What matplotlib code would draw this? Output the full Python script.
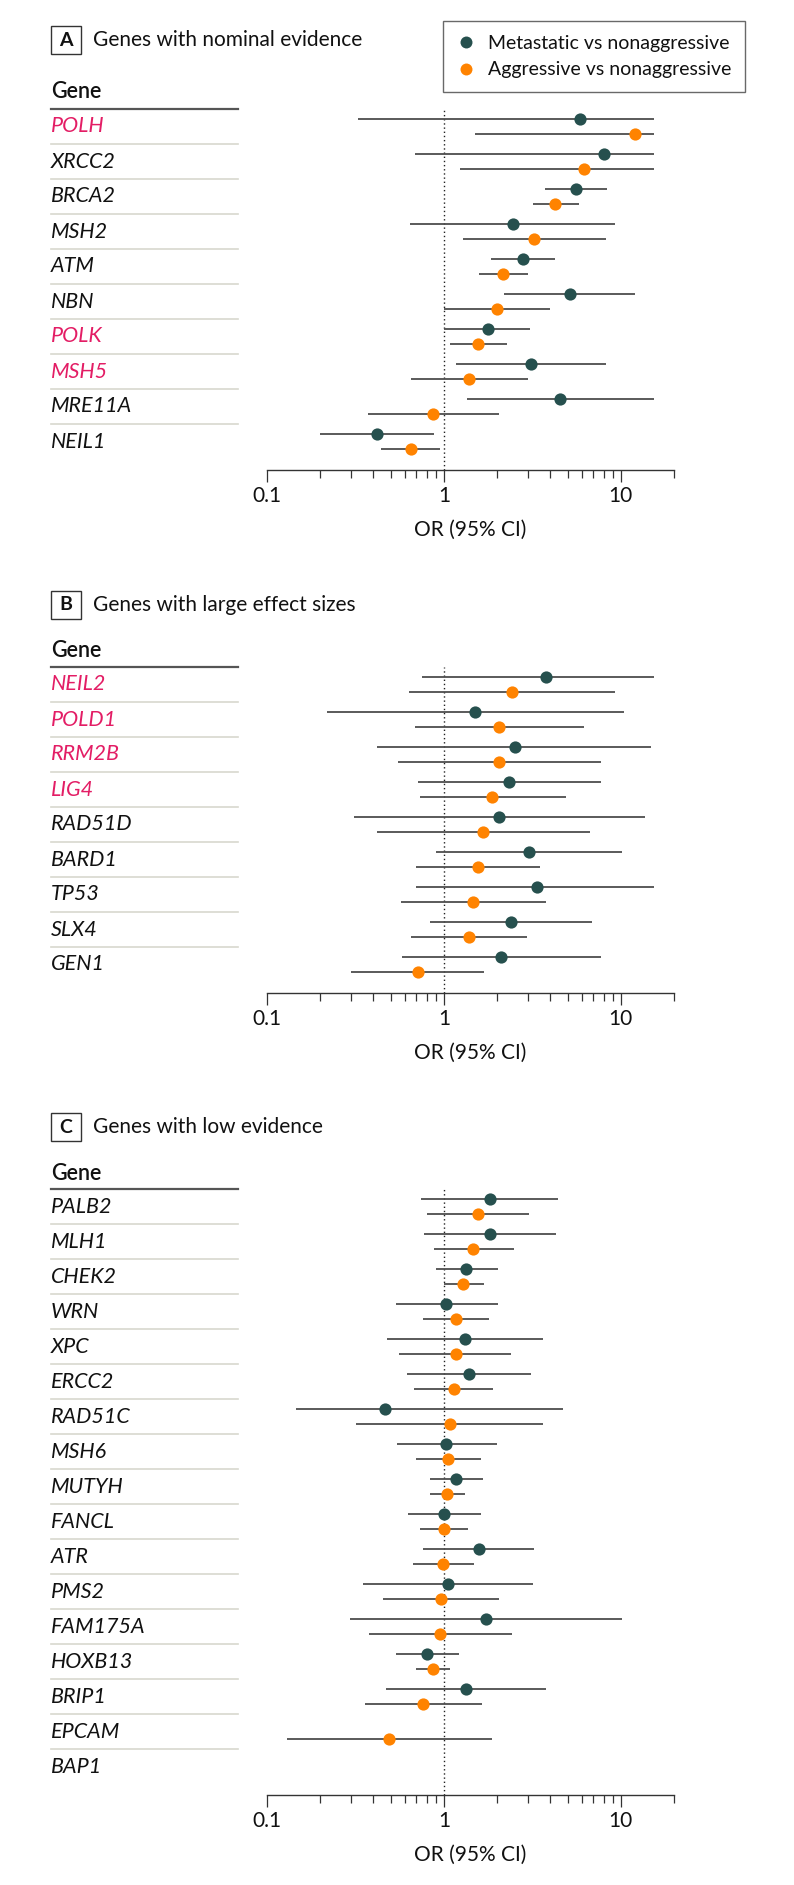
import matplotlib
matplotlib.use('Agg')
import matplotlib.pyplot as plt
import numpy as np
from matplotlib.lines import Line2D
from matplotlib.patches import Rectangle
from matplotlib.transforms import blended_transform_factory

plt.rcParams['font.family'] = ['Lato', 'DejaVu Sans']

# Panel A: genes with nominal evidence
genes_a = ['POLH', 'XRCC2', 'BRCA2', 'MSH2', 'ATM', 'NBN', 'POLK', 'MSH5', 'MRE11A', 'NEIL1']
pink_a = ['POLH', 'POLK', 'MSH5']
met_or_a = [5.87, 8.0, 5.57, 2.45, 2.81, 5.15, 1.77, 3.10, 4.54, 0.42]
met_lo_a = [0.325, 0.69, 3.73, 0.64, 1.84, 2.20, 1.00, 1.17, 1.36, 0.20]
met_hi_a = [15.4, 15.4, 8.37, 9.3, 4.25, 12.0, 3.08, 8.26, 15.4, 0.88]
agg_or_a = [12.0, 6.19, 4.25, 3.25, 2.16, 2.00, 1.56, 1.38, 0.865, 0.65]
agg_lo_a = [1.49, 1.23, 3.18, 1.28, 1.58, 1.00, 1.09, 0.65, 0.37, 0.44]
agg_hi_a = [15.4, 15.4, 5.79, 8.26, 2.98, 4.00, 2.27, 2.98, 2.05, 0.95]

# Panel B: genes with large effect sizes
genes_b = ['NEIL2', 'POLD1', 'RRM2B', 'LIG4', 'RAD51D', 'BARD1', 'TP53', 'SLX4', 'GEN1']
pink_b = ['NEIL2', 'POLD1', 'RRM2B', 'LIG4']
met_or_b = [3.78, 1.49, 2.51, 2.34, 2.05, 3.02, 3.35, 2.40, 2.09]
met_lo_b = [0.75, 0.217, 0.42, 0.715, 0.31, 0.906, 0.70, 0.83, 0.58]
met_hi_b = [15.4, 10.4, 14.9, 7.75, 13.8, 10.1, 15.4, 6.92, 7.69]
agg_or_b = [2.43, 2.06, 2.05, 1.88, 1.67, 1.56, 1.46, 1.38, 0.715]
agg_lo_b = [0.635, 0.69, 0.55, 0.73, 0.42, 0.70, 0.57, 0.65, 0.30]
agg_hi_b = [9.3, 6.23, 7.69, 4.88, 6.74, 3.51, 3.80, 2.96, 1.69]

# Panel C: genes with low evidence (nan = not estimated)
nan = np.nan
genes_c = ['PALB2', 'MLH1', 'CHEK2', 'WRN', 'XPC', 'ERCC2', 'RAD51C', 'MSH6', 'MUTYH',
           'FANCL', 'ATR', 'PMS2', 'FAM175A', 'HOXB13', 'BRIP1', 'EPCAM', 'BAP1']
pink_c = []
met_or_c = [1.82, 1.82, 1.34, 1.03, 1.32, 1.38, 0.463, 1.03, 1.17, 1.00, 1.57, 1.05, 1.74, 0.805, 1.33, nan, nan]
met_lo_c = [0.74, 0.77, 0.90, 0.535, 0.48, 0.615, 0.146, 0.54, 0.83, 0.627, 0.76, 0.35, 0.296, 0.535, 0.47, nan, nan]
met_hi_c = [4.42, 4.28, 2.01, 2.01, 3.63, 3.10, 4.72, 2.00, 1.67, 1.62, 3.25, 3.20, 10.1, 1.21, 3.78, nan, nan]
agg_or_c = [1.56, 1.47, 1.29, 1.17, 1.17, 1.14, 1.09, 1.06, 1.04, 1.00, 0.987, 0.96, 0.955, 0.865, 0.76, 0.49, nan]
agg_lo_c = [0.805, 0.877, 1.00, 0.76, 0.56, 0.68, 0.32, 0.70, 0.83, 0.73, 0.665, 0.45, 0.378, 0.70, 0.356, 0.129, nan]
agg_hi_c = [3.04, 2.48, 1.68, 1.80, 2.40, 1.90, 3.65, 1.62, 1.32, 1.37, 1.48, 2.05, 2.43, 1.09, 1.64, 1.88, nan]

tick_vals = [0.1, 1, 10]
tick_labels = ['0.1', '1', '10']

MET = '#26504e'
AGG = '#ff8300'
PINK = '#e31d65'
CI = '#4d4d4d'
TXT = '#111111'

W, H = 794, 1885
fig = plt.figure(figsize=(W / 100, H / 100), dpi=100)
fig.patch.set_facecolor('white')

X0, X1 = 267, 674     # axis extent in px
ROW = 35              # px per gene row
LAB_X = 51 / W
SEP_X1 = 238 / W


def fy(px):
    return 1 - px / H


def panel(letter, title, genes, pink, mo, ml, mh, ao, al, ah,
          title_y, gene_y, line_y, axis_y):
    ax = fig.add_axes([X0 / W, fy(axis_y), (X1 - X0) / W, (axis_y - line_y) / H])
    n = len(genes)
    ax.set_xscale('log')
    ax.set_xlim(0.1, 20)
    ax.set_ylim(-0.5 + (axis_y - line_y) / ROW, -0.5)
    off = 0.21
    ys = np.arange(n)
    ax.axvline(1, color='#222222', lw=1.0, ls=(0, (1, 2)), zorder=1)
    ax.hlines(ys - off, ml, mh, color=CI, lw=1.3, zorder=2)
    ax.hlines(ys + off, al, ah, color=CI, lw=1.3, zorder=2)
    ax.plot(mo, ys - off, 'o', color=MET, ms=8.8, mec='none', zorder=3)
    ax.plot(ao, ys + off, 'o', color=AGG, ms=8.8, mec='none', zorder=3)

    for s in ['top', 'right', 'left']:
        ax.spines[s].set_visible(False)
    ax.spines['bottom'].set_color('#333333')
    ax.spines['bottom'].set_linewidth(1.0)
    ax.set_yticks([])
    ax.set_xticks(tick_vals)
    ax.set_xticklabels(tick_labels)
    ax.tick_params(axis='x', which='major', length=8.6, width=0.9, color='#333333',
                   labelsize=15, pad=3, labelcolor=TXT)
    ax.tick_params(axis='x', which='minor', length=5.8, width=0.9, color='#333333',
                   labelbottom=False)
    ax.set_xlabel('OR (95% CI)', fontsize=15, color=TXT, labelpad=10)
    ax.patch.set_alpha(0)

    # gene labels and row separators
    tr = blended_transform_factory(fig.transFigure, ax.transData)
    for i, g in enumerate(genes):
        ax.text(LAB_X, i, g, transform=tr, fontsize=15.5, style='italic',
                color=PINK if g in pink else TXT, va='center', ha='left')
        if i < n - 1:
            ax.plot([LAB_X, SEP_X1], [i + 0.5, i + 0.5], transform=tr,
                    color='#d8d8ce', lw=1.2, clip_on=False)
    ax.plot([LAB_X, SEP_X1], [-0.5, -0.5], transform=tr, color='#555555',
            lw=1.6, clip_on=False)

    fig.text(LAB_X, fy(gene_y), 'Gene', fontsize=15.5, fontweight='semibold',
             color=TXT, va='center', ha='left')
    fig.patches.append(Rectangle((51 / W, fy(title_y + 14)), 30 / W, 28 / H,
                                 transform=fig.transFigure, fill=False,
                                 edgecolor='#333333', lw=1.0))
    fig.text(66 / W, fy(title_y), letter, fontsize=14, fontweight='bold',
             color=TXT, va='center', ha='center')
    fig.text(93 / W, fy(title_y), title, fontsize=15, color=TXT,
             va='center', ha='left')
    return ax


panel('A', 'Genes with nominal evidence', genes_a, pink_a,
      met_or_a, met_lo_a, met_hi_a, agg_or_a, agg_lo_a, agg_hi_a,
      40, 92, 109, 470)
panel('B', 'Genes with large effect sizes', genes_b, pink_b,
      met_or_b, met_lo_b, met_hi_b, agg_or_b, agg_lo_b, agg_hi_b,
      605, 650, 667, 993)
panel('C', 'Genes with low evidence', genes_c, pink_c,
      met_or_c, met_lo_c, met_hi_c, agg_or_c, agg_lo_c, agg_hi_c,
      1127, 1173, 1189, 1795)

handles = [
    Line2D([0], [0], marker='o', ls='none', color=MET, ms=8.6, mec='none',
           label='Metastatic vs nonaggressive'),
    Line2D([0], [0], marker='o', ls='none', color=AGG, ms=8.6, mec='none',
           label='Aggressive vs nonaggressive'),
]
leg = fig.legend(handles=handles, loc='upper left', bbox_to_anchor=(443 / W, fy(21)),
                 fontsize=14, frameon=True, fancybox=False, edgecolor='#444444',
                 handlelength=1.0, handletextpad=0.6, borderpad=0.7,
                 labelspacing=0.5, borderaxespad=0)
leg.get_frame().set_linewidth(1.0)
for t in leg.get_texts():
    t.set_color(TXT)

fig.savefig('out.png', dpi=100, facecolor='white')
